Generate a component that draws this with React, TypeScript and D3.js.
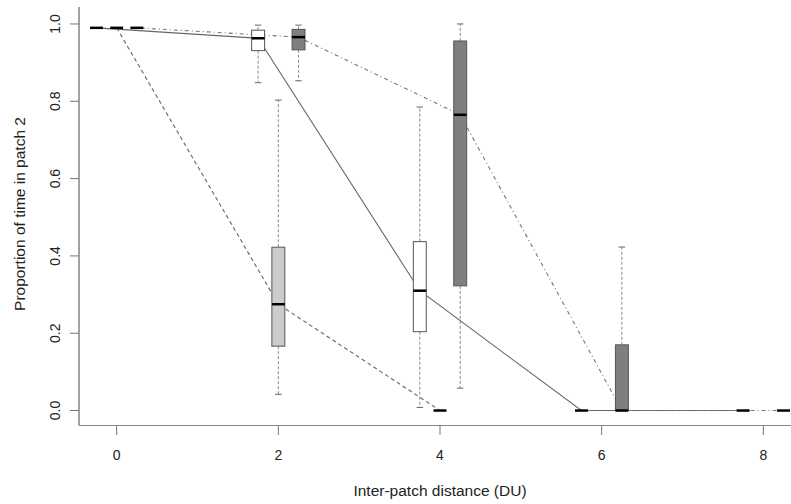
import React from 'react';
import { scaleLinear, line } from 'd3';

// box stats: [lower whisker, q1, median, q3, upper whisker]
const distances = [0, 2, 4, 6, 8];
const xTicks = [0, 2, 4, 6, 8];
const yTicks = [0, 0.2, 0.4, 0.6, 0.8, 1.0];

const whiteStats = [
    [0.99, 0.99, 0.99, 0.99, 0.99],
    [0.848, 0.931, 0.963, 0.984, 0.997],
    [0.008, 0.204, 0.31, 0.437, 0.785],
    [0, 0, 0, 0, 0],
    [0, 0, 0, 0, 0],
];
const lightStats = [
    [0.99, 0.99, 0.99, 0.99, 0.99],
    [0.042, 0.1665, 0.275, 0.4225, 0.803],
    [0, 0, 0, 0, 0],
    null,
    null,
];
const darkStats = [
    [0.99, 0.99, 0.99, 0.99, 0.99],
    [0.853, 0.933, 0.966, 0.986, 0.997],
    [0.058, 0.3225, 0.765, 0.956, 1.0],
    [0, 0, 0, 0.17, 0.423],
    [0, 0, 0, 0, 0],
];

const series = [
    { name: 'white', offset: -0.25, fill: '#ffffff', dash: null, stats: whiteStats },
    { name: 'light', offset: 0, fill: '#cccccc', dash: '4,3', stats: lightStats },
    { name: 'dark', offset: 0.25, fill: '#7f7f7f', dash: '1,3,4,3', stats: darkStats },
];

const W = 791, H = 504;
const x = scaleLinear().domain([-0.466, 8.466]).range([79, 801]);
const y = scaleLinear().domain([-0.04, 1.04]).range([426, 8.5]);
const boxW = 0.16;
const font = '"Liberation Sans", Arial, sans-serif';

export default function App() {
    const lineGen = line<[number, number]>()
        .x(d => x(d[0]))
        .y(d => y(d[1]));

    return (
        <svg width={W} height={H} style={{ position: 'absolute', left: 0, top: 0, background: '#fff' }}>
            {/* median connecting lines */}
            {series.map(s => {
                const pts: [number, number][] = [];
                distances.forEach((d, i) => {
                    const st = s.stats[i];
                    if (st) pts.push([d + s.offset, st[2]]);
                });
                return (
                    <path key={s.name + '-line'} d={lineGen(pts) || ''} fill="none"
                        stroke={s.name === 'dark' ? '#777' : '#666'} strokeWidth={1.1}
                        strokeDasharray={s.dash || undefined} />
                );
            })}

            {/* boxes */}
            {series.map(s => distances.map((d, i) => {
                const st = s.stats[i];
                if (!st) return null;
                const cx = x(d + s.offset);
                const x0 = x(d + s.offset - boxW / 2);
                const x1 = x(d + s.offset + boxW / 2);
                const capHalf = (x1 - x0) / 4;
                const [lo, q1, med, q3, hi] = st;
                return (
                    <g key={s.name + d}>
                        {hi > q3 && <>
                            <line x1={cx} x2={cx} y1={y(q3)} y2={y(hi)} stroke="#888" strokeDasharray="3,2" />
                            <line x1={cx - capHalf} x2={cx + capHalf} y1={y(hi)} y2={y(hi)} stroke="#666" />
                        </>}
                        {lo < q1 && <>
                            <line x1={cx} x2={cx} y1={y(q1)} y2={y(lo)} stroke="#888" strokeDasharray="3,2" />
                            <line x1={cx - capHalf} x2={cx + capHalf} y1={y(lo)} y2={y(lo)} stroke="#666" />
                        </>}
                        {q3 > q1 && (
                            <rect x={x0} y={y(q3)} width={x1 - x0} height={y(q1) - y(q3)}
                                fill={s.fill} stroke="#555" strokeWidth={1} />
                        )}
                        <line x1={x0} x2={x1} y1={y(med)} y2={y(med)} stroke="#000" strokeWidth={2.5} />
                    </g>
                );
            }))}

            {/* frame: left and bottom */}
            <line x1={79} x2={79} y1={7} y2={425.5} stroke="#444" />
            <line x1={79} x2={801} y1={425.5} y2={425.5} stroke="#888" />

            {/* y axis */}
            {yTicks.map(t => (
                <g key={'y' + t}>
                    <line x1={70} x2={79} y1={y(t)} y2={y(t)} stroke="#777" />
                    <text x={0} y={0} transform={`translate(60,${y(t)}) rotate(-90)`} textAnchor="middle"
                        fontFamily={font} fontSize={14} fill="#222">{t.toFixed(1)}</text>
                </g>
            ))}
            {/* x axis */}
            {xTicks.map(t => (
                <g key={'x' + t}>
                    <line x1={x(t)} x2={x(t)} y1={425.5} y2={435} stroke="#777" />
                    <text x={x(t)} y={460} textAnchor="middle" fontFamily={font} fontSize={14} fill="#222">{t}</text>
                </g>
            ))}

            <text x={440} y={496} textAnchor="middle" fontFamily={font} fontSize={15.5} fill="#222">
                Inter-patch distance (DU)
            </text>
            <text transform={`translate(25,214) rotate(-90)`} textAnchor="middle" fontFamily={font} fontSize={15.5} fill="#222">
                Proportion of time in patch  2
            </text>
        </svg>
    );
}
